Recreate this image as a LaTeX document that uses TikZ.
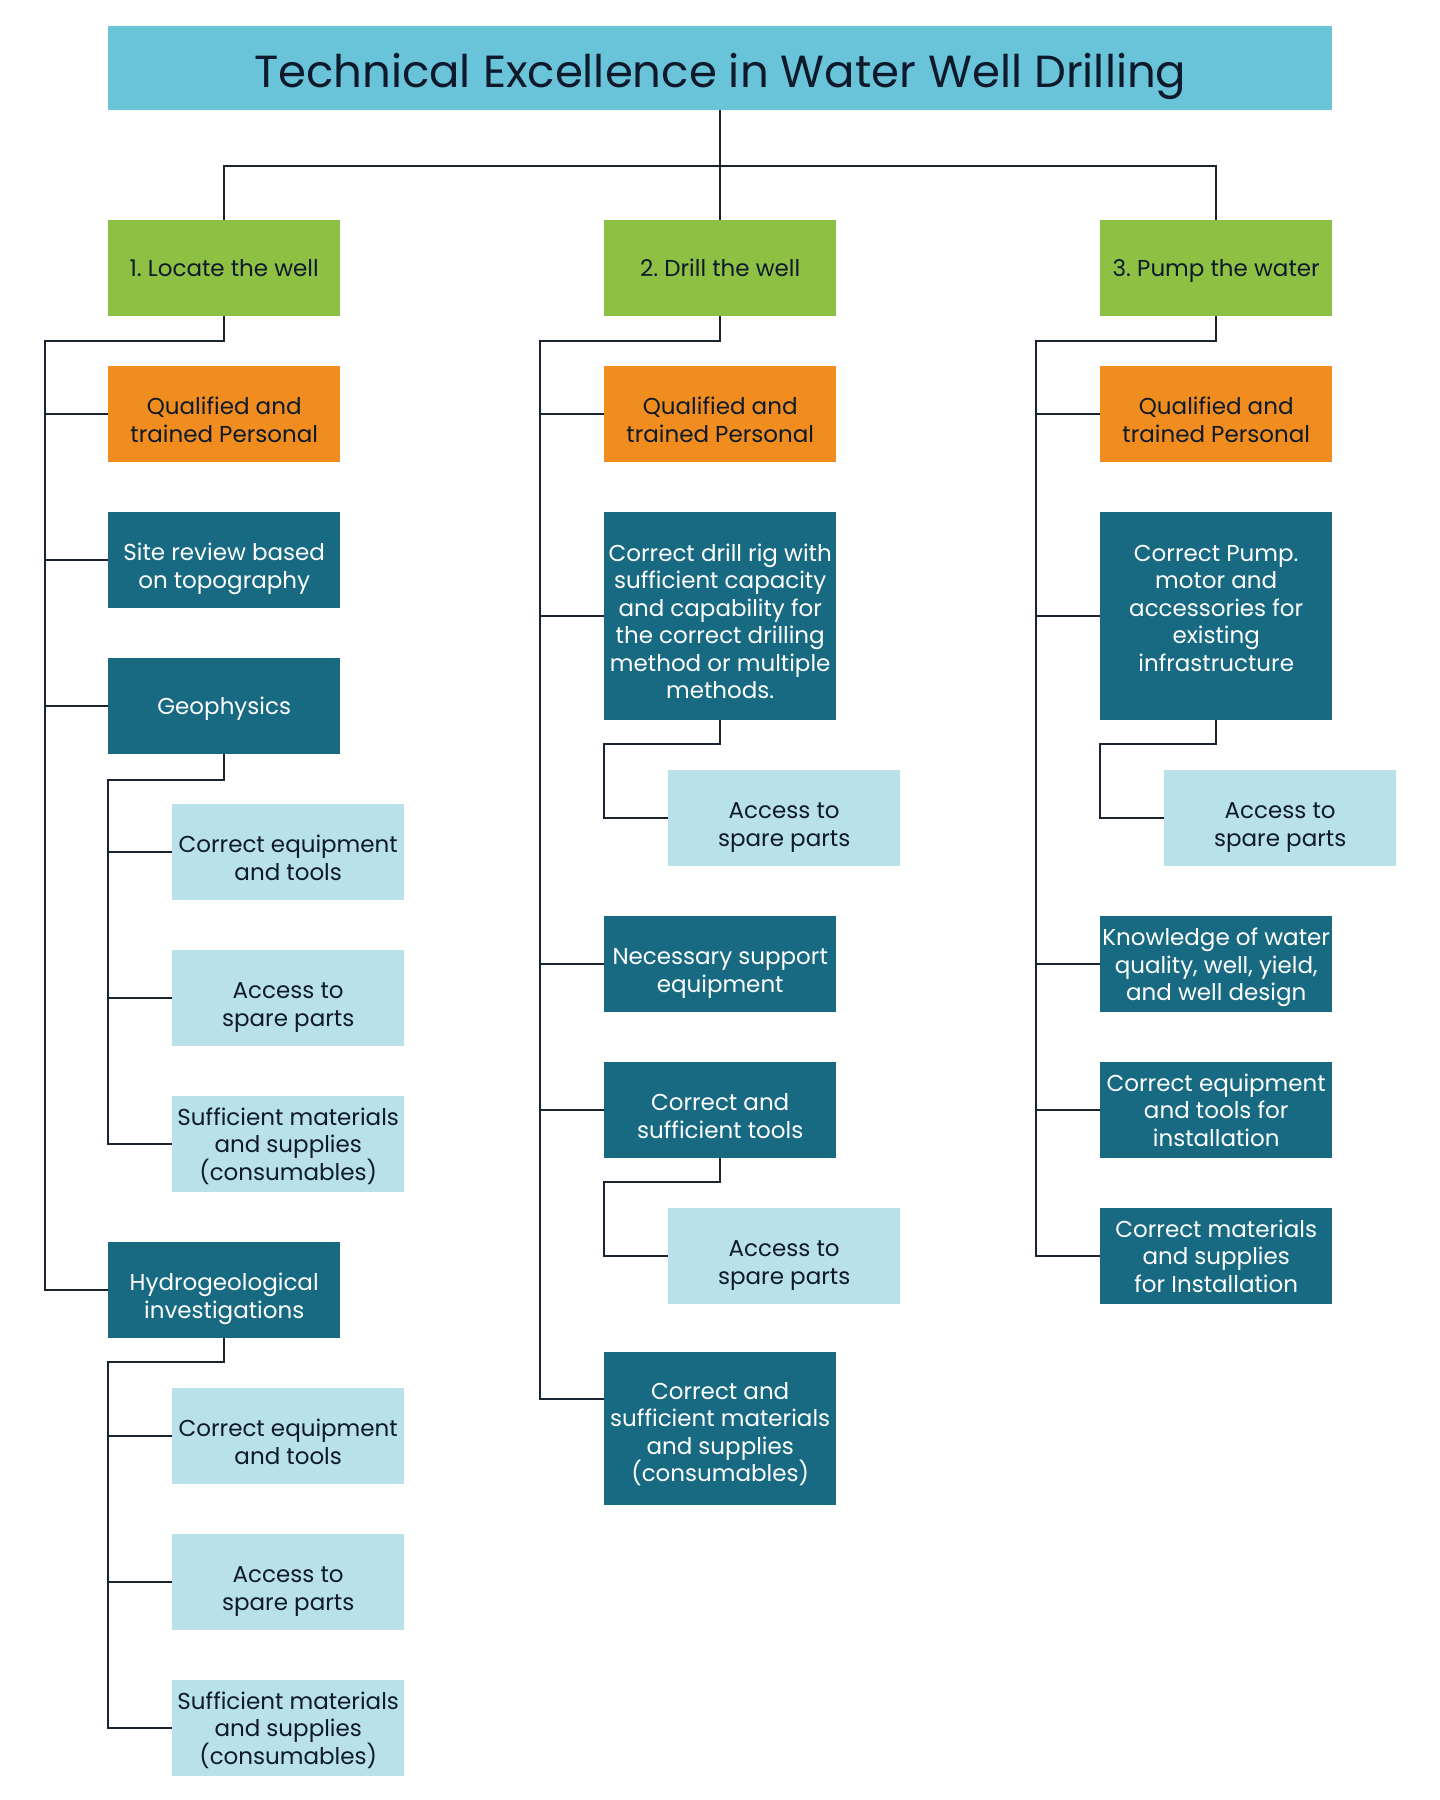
\documentclass[tikz,border=0pt]{standalone}
\usepackage{fontspec}
\setmainfont{Poppins}
\definecolor{titlebg}{HTML}{69C4DA}
\definecolor{greenbg}{HTML}{8DC043}
\definecolor{orangebg}{HTML}{F18D1F}
\definecolor{tealbg}{HTML}{186A83}
\definecolor{lightbg}{HTML}{B9E1EA}
\definecolor{inkc}{HTML}{0E1A2B}
\definecolor{linec}{HTML}{1B2432}
\newcommand{\tstr}[1]{\rule{0pt}{#1pt}}
\begin{document}
\frenchspacing
\begin{tikzpicture}[x=1pt,y=-1pt,
  base/.style={anchor=north west,minimum width=232pt,minimum height=96pt,inner sep=0pt,
    align=center,font=\fontsize{23}{27.5}\selectfont,
    execute at end node={\rule[-8pt]{0pt}{8pt}}},
  greenbox/.style={base,fill=greenbg,text=inkc},
  orangebox/.style={base,fill=orangebg,text=inkc},
  tealbox/.style={base,fill=tealbg,text=white},
  lightbox/.style={base,fill=lightbg,text=inkc},
  conn/.style={draw=linec,line width=2.4pt}]
\useasboundingbox (0,0) rectangle (1440,1800);
\fill[white] (0,0) rectangle (1440,1800);

% title
\node[anchor=north west,minimum width=1224pt,minimum height=84pt,inner sep=0pt,fill=titlebg,text=inkc,
  font=\fontsize{45}{50}\selectfont] (title) at (108,26) {\rule{0pt}{50pt}Technical Excellence in Water Well Drilling\rule[-12pt]{0pt}{12pt}};

% level 1
\node[greenbox] (l1) at (108,220) {\tstr{24}1. Locate the well};
\node[greenbox] (l2) at (604,220) {\tstr{24}2. Drill the well};
\node[greenbox] (l3) at (1100,220) {\tstr{24}3. Pump the water};

% column 1
\node[orangebox] (q1) at (108,366) {\tstr{37}Qualified and\\trained Personal};
\node[tealbox] (site) at (108,512) {\tstr{37}Site review based\\on topography};
\node[tealbox] (geo) at (108,658) {\tstr{24}Geophysics};
\node[lightbox] (gs1) at (172,804) {\tstr{37}Correct equipment\\and tools};
\node[lightbox] (gs2) at (172,950) {\tstr{37}Access to\\spare parts};
\node[lightbox] (gs3) at (172,1096) {\tstr{25}Sufficient materials\\and supplies\\(consumables)};
\node[tealbox] (hyd) at (108,1242) {\tstr{37}Hydrogeological\\investigations};
\node[lightbox] (hs1) at (172,1388) {\tstr{37}Correct equipment\\and tools};
\node[lightbox] (hs2) at (172,1534) {\tstr{37}Access to\\spare parts};
\node[lightbox] (hs3) at (172,1680) {\tstr{25}Sufficient materials\\and supplies\\(consumables)};

% column 2
\node[orangebox] (q2) at (604,366) {\tstr{37}Qualified and\\trained Personal};
\node[tealbox,minimum height=208pt] (rig) at (604,512) {\tstr{36}Correct drill rig with\\sufficient capacity\\and capability for\\the correct drilling\\method or multiple\\methods.};
\node[lightbox] (rs) at (668,770) {\tstr{37}Access to\\spare parts};
\node[tealbox] (sup) at (604,916) {\tstr{37}Necessary support\\equipment};
\node[tealbox] (tools) at (604,1062) {\tstr{37}Correct and\\sufficient tools};
\node[lightbox] (ts) at (668,1208) {\tstr{37}Access to\\spare parts};
\node[tealbox,minimum height=153pt] (mat) at (604,1352) {\tstr{32}Correct and\\sufficient materials\\and supplies\\(consumables)};

% column 3
\node[orangebox] (q3) at (1100,366) {\tstr{37}Qualified and\\trained Personal};
\node[tealbox,minimum height=208pt,execute at end node={\rule[-16pt]{0pt}{16pt}}] (pump) at (1100,512) {Correct Pump.\\motor and\\accessories for\\existing\\infrastructure};
\node[lightbox] (ps) at (1164,770) {\tstr{37}Access to\\spare parts};
\node[tealbox] (know) at (1100,916) {\tstr{26}Knowledge of water\\quality, well, yield,\\and well design};
\node[tealbox] (inst) at (1100,1062) {\tstr{25}Correct equipment\\and tools for\\installation};
\node[tealbox] (cmat) at (1100,1208) {\tstr{25}Correct materials\\and supplies\\for Installation};

% connectors: top
\coordinate (bus) at (720,166);
\draw[conn] (title.south) -- (l2.north);
\draw[conn] (l1.north) |- (bus) -| (l3.north);

% column 1
\coordinate (c1t) at (45,341);
\draw[conn] (l1.south) |- (c1t) |- (hyd.west);
\draw[conn] (q1.west) -- (q1.west -| c1t);
\draw[conn] (site.west) -- (site.west -| c1t);
\draw[conn] (geo.west) -- (geo.west -| c1t);
\coordinate (g1) at (108,780);
\draw[conn] (geo.south) |- (g1) |- (gs3.west);
\draw[conn] (gs1.west) -- (gs1.west -| g1);
\draw[conn] (gs2.west) -- (gs2.west -| g1);
\coordinate (h1) at (108,1362);
\draw[conn] (hyd.south) |- (h1) |- (hs3.west);
\draw[conn] (hs1.west) -- (hs1.west -| h1);
\draw[conn] (hs2.west) -- (hs2.west -| h1);

% column 2
\coordinate (c2t) at (540,341);
\coordinate (mstub) at (604,1399);
\draw[conn] (l2.south) |- (c2t) |- (mstub);
\draw[conn] (q2.west) -- (q2.west -| c2t);
\draw[conn] (rig.west) -- (rig.west -| c2t);
\draw[conn] (sup.west) -- (sup.west -| c2t);
\draw[conn] (tools.west) -- (tools.west -| c2t);
\coordinate (r1) at (604,744);
\draw[conn] (rig.south) |- (r1) |- (rs.west);
\coordinate (t1) at (604,1182);
\draw[conn] (tools.south) |- (t1) |- (ts.west);

% column 3
\coordinate (c3t) at (1036,341);
\draw[conn] (l3.south) |- (c3t) |- (cmat.west);
\draw[conn] (q3.west) -- (q3.west -| c3t);
\draw[conn] (pump.west) -- (pump.west -| c3t);
\draw[conn] (know.west) -- (know.west -| c3t);
\draw[conn] (inst.west) -- (inst.west -| c3t);
\coordinate (p1) at (1100,744);
\draw[conn] (pump.south) |- (p1) |- (ps.west);
\end{tikzpicture}
\end{document}
